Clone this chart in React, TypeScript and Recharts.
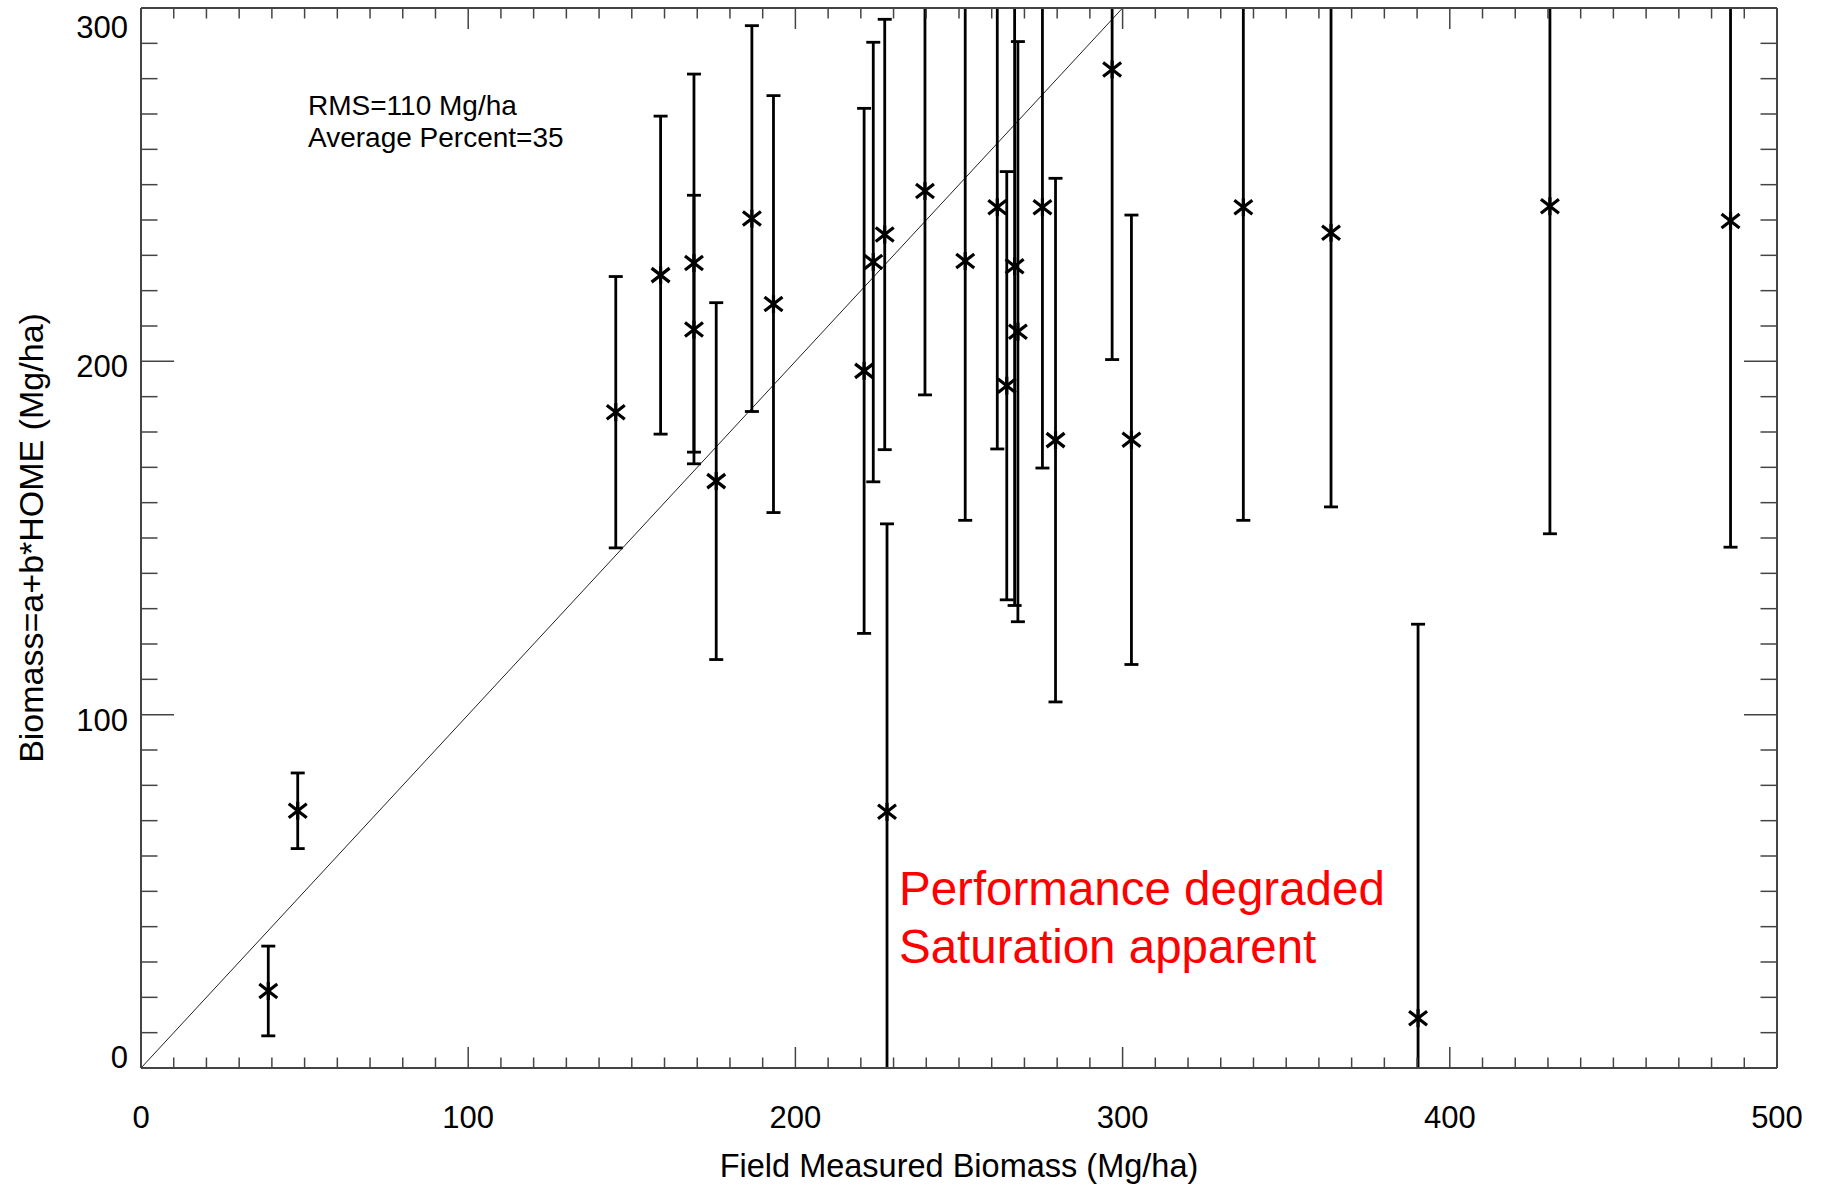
import React from "react";
import {
  ErrorBar,
  Label,
  ReferenceLine,
  Scatter,
  ScatterChart,
  XAxis,
  YAxis,
} from "recharts";

// field measured biomass (Mg/ha)
const fieldBiomass = [
  38.9, 47.9, 145.1, 158.8, 169.0, 169.0, 175.8, 186.7, 193.3, 221.0, 223.8,
  227.3, 228.0, 239.6, 251.9, 261.7, 264.6, 267.0, 268.0, 275.5, 279.5, 296.8,
  302.7, 336.9, 363.7, 390.3, 430.6, 485.8,
];

// modelled biomass = a + b*HOME (Mg/ha)
const modelBiomass = [
  21.8, 72.8, 185.6, 224.4, 227.8, 209.0, 166.1, 240.4, 216.2, 197.3, 228.1,
  235.9, 72.5, 248.2, 228.4, 243.6, 193.1, 226.9, 208.4, 243.6, 177.7, 282.6,
  177.8, 243.6, 236.4, 14.1, 243.9, 239.7,
];

// half width of the error bars
const errorHalf = [
  12.7, 10.7, 38.4, 45.0, 53.5, 38.0, 50.5, 54.6, 59.0, 74.3, 62.2, 60.9, 81.5,
  57.7, 73.4, 68.4, 60.6, 96.0, 82.1, 73.8, 74.1, 82.1, 63.6, 88.6, 77.6, 111.5,
  92.7, 92.3,
];

const xTickLabels = [0, 100, 200, 300, 400, 500];
const yTickLabels = [0, 100, 200, 300];
const oneToOne = [0, 300];

const rmsText = "RMS=110 Mg/ha";
const percentText = "Average Percent=35";
const noteLines = ["Performance degraded", "Saturation apparent"];

const data = fieldBiomass.map((x, i) => ({
  x,
  y: modelBiomass[i],
  err: errorHalf[i],
}));

const xTicks = Array.from({ length: 51 }, (_, i) => i * 10);
const yTicks = Array.from({ length: 31 }, (_, i) => i * 10);

const font = "'Liberation Sans', Arial, Helvetica, sans-serif";
const axisColor = "#444";

// plot box, used to clip the error bars that run off the frame
const plot = { left: 141, top: 8, width: 1636, height: 1060 };

// bottom axis tick, also draws the mirrored tick on the top edge
function BottomTick(props: any) {
  const { x, y, payload } = props;
  const major = xTickLabels.includes(payload.value);
  const len = major ? 21 : 10.5;
  const top = y - plot.height;
  return (
    <g>
      <line x1={x} x2={x} y1={y} y2={y - len} stroke={axisColor} strokeWidth={1.5} />
      <line x1={x} x2={x} y1={top} y2={top + len} stroke={axisColor} strokeWidth={1.5} />
      {major && (
        <text x={x} y={y + 60} textAnchor="middle" fontSize={31} fontFamily={font} fill="#000">
          {payload.value}
        </text>
      )}
    </g>
  );
}

function LeftTick(props: any) {
  const { x, y, payload } = props;
  const major = yTickLabels.includes(payload.value);
  // end labels sit inside the frame
  const dy = payload.value === 300 ? 30 : payload.value === 0 ? 0 : 16;
  return (
    <g>
      <line x1={x} x2={x + (major ? 33 : 16.5)} y1={y} y2={y} stroke={axisColor} strokeWidth={1.5} />
      {major && (
        <text x={x - 13} y={y + dy} textAnchor="end" fontSize={31} fontFamily={font} fill="#000">
          {payload.value}
        </text>
      )}
    </g>
  );
}

function RightTick(props: any) {
  const { x, y, payload } = props;
  const major = yTickLabels.includes(payload.value);
  return <line x1={x} x2={x - (major ? 33 : 16.5)} y1={y} y2={y} stroke={axisColor} strokeWidth={1.5} />;
}

function Asterisk(props: any) {
  const { cx, cy } = props;
  if (cx == null || cy == null) return null;
  return (
    <g stroke="#000" strokeWidth={3.2}>
      <line x1={cx - 9} y1={cy - 7} x2={cx + 9} y2={cy + 7} />
      <line x1={cx - 9} y1={cy + 7} x2={cx + 9} y2={cy - 7} />
      <line x1={cx} y1={cy - 9} x2={cx} y2={cy + 9} />
    </g>
  );
}

export default function App() {
  return (
    <div style={{ position: "absolute", left: 0, top: 0, width: 1822, height: 1186, background: "#fff" }}>
      <style>{`.recharts-errorBar { clip-path: url(#plotArea); }`}</style>
      <svg width={0} height={0} style={{ position: "absolute" }}>
        <defs>
          <clipPath id="plotArea" clipPathUnits="userSpaceOnUse">
            <rect x={plot.left} y={plot.top} width={plot.width} height={plot.height} />
          </clipPath>
        </defs>
      </svg>
      <ScatterChart
        width={1822}
        height={1186}
        margin={{ top: 7, right: 44, bottom: 0, left: 0 }}
      >
        <XAxis
          type="number"
          dataKey="x"
          domain={[0, 500]}
          allowDataOverflow
          ticks={xTicks}
          interval={0}
          tickSize={0}
          tickMargin={0}
          tickLine={false}
          tick={(p: any) => <BottomTick {...p} />}
          axisLine={{ stroke: axisColor, strokeWidth: 2 }}
          height={118}
        >
          <Label
            content={(p: any) => {
              const vb = p.viewBox || { x: 141, y: 1068, width: 1636, height: 118 };
              return (
                <text x={vb.x + vb.width / 2} y={vb.y + 109} textAnchor="middle" fontSize={32.5} fontFamily={font} fill="#000">
                  Field Measured Biomass (Mg/ha)
                </text>
              );
            }}
          />
        </XAxis>
        <XAxis
          xAxisId="top"
          orientation="top"
          type="number"
          domain={[0, 500]}
          allowDataOverflow
          tick={false}
          tickLine={false}
          axisLine={{ stroke: axisColor, strokeWidth: 2 }}
          height={1}
        />
        <YAxis
          type="number"
          dataKey="y"
          domain={[0, 300]}
          allowDataOverflow
          ticks={yTicks}
          interval={0}
          tickSize={0}
          tickMargin={0}
          tickLine={false}
          tick={(p: any) => <LeftTick {...p} />}
          axisLine={{ stroke: axisColor, strokeWidth: 2 }}
          width={141}
        >
          <Label
            content={(p: any) => {
              const vb = p.viewBox || { x: 0, y: 8, width: 141, height: 1060 };
              const cx = vb.x + 43;
              const cy = vb.y + vb.height / 2;
              return (
                <text x={cx} y={cy} transform={`rotate(-90 ${cx} ${cy})`} textAnchor="middle" fontSize={34} fontFamily={font} fill="#000">
                  Biomass=a+b*HOME (Mg/ha)
                </text>
              );
            }}
          />
        </YAxis>
        <YAxis
          yAxisId="right"
          orientation="right"
          type="number"
          domain={[0, 300]}
          allowDataOverflow
          ticks={yTicks}
          interval={0}
          tickSize={0}
          tickMargin={0}
          tickLine={false}
          tick={(p: any) => <RightTick {...p} />}
          axisLine={{ stroke: axisColor, strokeWidth: 2 }}
          width={1}
        />
        <ReferenceLine
          segment={[
            { x: oneToOne[0], y: oneToOne[0] },
            { x: oneToOne[1], y: oneToOne[1] },
          ]}
          stroke="#222"
          strokeWidth={1}
        />
        <Scatter data={data} shape={(p: any) => <Asterisk {...p} />} isAnimationActive={false}>
          <ErrorBar dataKey="err" direction="y" width={7} stroke="#000" strokeWidth={2.8} />
        </Scatter>
      </ScatterChart>
      <svg
        width={1822}
        height={1186}
        style={{ position: "absolute", left: 0, top: 0, pointerEvents: "none" }}
      >
        <text x={308} y={115} fontSize={28} fontFamily={font} fill="#000">{rmsText}</text>
        <text x={308} y={147} fontSize={28} fontFamily={font} fill="#000">{percentText}</text>
        {noteLines.map((t, i) => (
          <text key={t} x={899} y={905 + i * 58} fontSize={47.5} fontFamily={font} fill="#ff0000">
            {t}
          </text>
        ))}
      </svg>
    </div>
  );
}
